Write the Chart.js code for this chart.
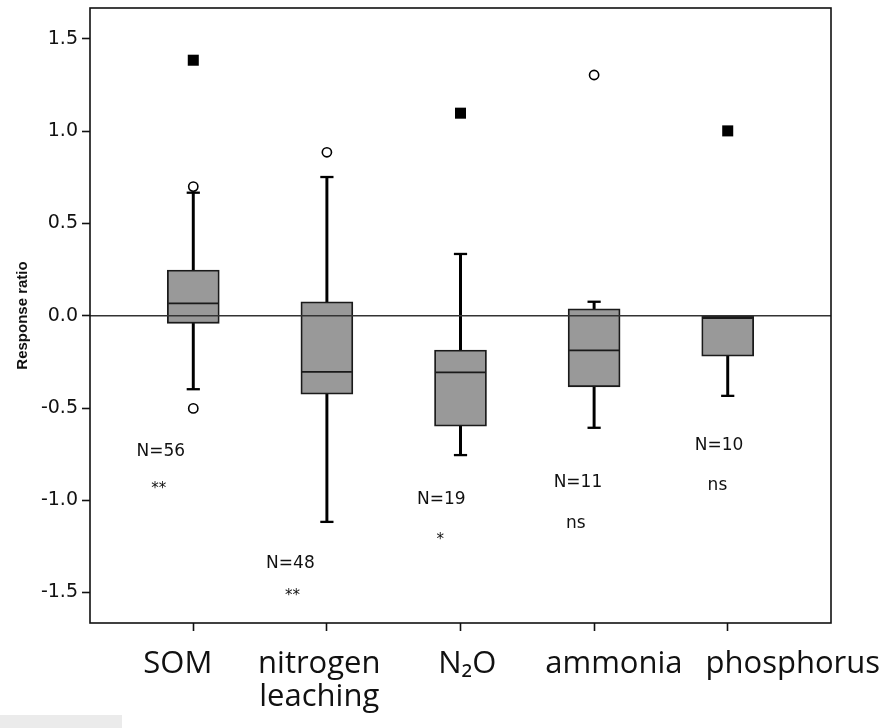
<!DOCTYPE html>
<html>
<head>
<meta charset="utf-8">
<script src="https://cdn.jsdelivr.net/npm/chart.js@4/dist/chart.umd.min.js"></script>
<style>
  html, body { margin: 0; padding: 0; background: #ffffff; }
  #wrap { position: relative; width: 887px; height: 728px; }
  #corner { position: absolute; left: 0; top: 715px; width: 122px; height: 13px; background: #ebebeb; }
</style>
</head>
<body>
<div id="wrap">
  <canvas id="c" width="887" height="728"></canvas>
  <div id="corner"></div>
</div>
<script>
// ---- data ----
const categories  = ['SOM', 'nitrogen\nleaching', 'N\u2082O', 'ammonia', 'phosphorus'];
const categoryLabelX = [-0.116, 0.943, 2.051, 3.148, 4.487]; // where each category name sits (x units)
const whiskerLow  = [-0.398, -1.117, -0.755, -0.607, -0.434];
const q1          = [-0.041, -0.425, -0.598, -0.385, -0.219];
const medians     = [ 0.067, -0.304, -0.307, -0.188, -0.012];
const q3          = [ 0.248,  0.076, -0.186,  0.038,  0.000];
const whiskerHigh = [ 0.667,  0.752,  0.335,  0.076,  0.000];
const outliers    = [[0.700, -0.502], [0.886], [], [1.305], []];
const extremes    = [[1.385], [], [1.098], [], [1.002]];
const nLabels     = ['N=56', 'N=48', 'N=19', 'N=11', 'N=10'];
const sigLabels   = ['**', '**', '*', 'ns', 'ns'];
const nLabelX     = [-0.243, 0.727, 1.856, 2.879, 3.935];
const nLabelY     = [-0.738, -1.341, -0.994, -0.906, -0.705];
const sigLabelX   = [-0.258, 0.742, 1.848, 2.863, 3.923];
const sigLabelY   = [-0.918, -1.497, -1.195, -1.124, -0.918];
const yTicks      = [-1.5, -1.0, -0.5, 0.0, 0.5, 1.0, 1.5];
const yRange      = [-1.665, 1.668];
const xRange      = [-0.773, 4.773];

// ---- build datasets ----
const idx = categories.map((_, i) => i);
const boxData = idx.map(i => ({ x: i, y: [q1[i], q3[i]] }));
const whiskerData = [];
idx.forEach(i => {
  if (whiskerHigh[i] > q3[i]) whiskerData.push({ x: i, y: [q3[i], whiskerHigh[i]] });
  if (whiskerLow[i] < q1[i]) whiskerData.push({ x: i, y: [whiskerLow[i], q1[i]] });
});
const capData = [];
idx.forEach(i => {
  if (whiskerHigh[i] > q3[i]) capData.push({ x: i, y: whiskerHigh[i] });
  if (whiskerLow[i] < q1[i]) capData.push({ x: i, y: whiskerLow[i] });
});
const medianData = idx.map(i => ({ x: i, y: medians[i] }));
const outlierData = [];
outliers.forEach((arr, i) => arr.forEach(v => outlierData.push({ x: i, y: v })));
const extremeData = [];
extremes.forEach((arr, i) => arr.forEach(v => extremeData.push({ x: i, y: v })));

const framePlugin = {
  id: 'frameAndNotes',
  afterDatasetsDraw(chart) {
    const { ctx, chartArea: a, scales: { x, y } } = chart;
    ctx.save();
    ctx.strokeStyle = '#111';
    ctx.lineWidth = 1.6;
    ctx.strokeRect(a.left, a.top, a.right - a.left, a.bottom - a.top);
    ctx.fillStyle = '#111';
    ctx.textAlign = 'center';
    ctx.textBaseline = 'middle';
    ctx.font = '17px "DejaVu Sans"';
    nLabels.forEach((t, i) => {
      ctx.fillText(t, x.getPixelForValue(nLabelX[i]), y.getPixelForValue(nLabelY[i]));
    });
    sigLabels.forEach((t, i) => {
      const star = t.indexOf('*') >= 0;
      ctx.font = star ? '15px "DejaVu Sans"' : '17px "DejaVu Sans"';
      const dy = star ? 4 : 0;
      ctx.fillText(t, x.getPixelForValue(sigLabelX[i]), y.getPixelForValue(sigLabelY[i]) + dy);
    });
    ctx.restore();
  }
};

const noPad = s => { s.paddingTop = 0; s.paddingBottom = 0; s.paddingLeft = 0; s.paddingRight = 0; };

new Chart(document.getElementById('c'), {
  type: 'bar',
  data: {
    datasets: [
      { type: 'line', data: [{ x: xRange[0], y: 0 }, { x: xRange[1], y: 0 }],
        borderColor: '#333', borderWidth: 1.6, pointRadius: 0, order: 1 },
      { type: 'scatter', data: extremeData, pointStyle: 'rect', pointRadius: 7.8,
        backgroundColor: '#000', borderColor: '#000', borderWidth: 0, order: 2 },
      { type: 'scatter', data: outlierData, pointStyle: 'circle', pointRadius: 4.6,
        backgroundColor: '#fff', borderColor: '#000', borderWidth: 1.6, order: 2 },
      { type: 'scatter', data: medianData, pointStyle: 'line', pointRadius: 25,
        borderColor: '#1a1a1a', borderWidth: 1.8, order: 3 },
      { type: 'scatter', data: capData, pointStyle: 'line', pointRadius: 6.6,
        borderColor: '#000', borderWidth: 2.3, order: 4 },
      { type: 'bar', data: boxData, backgroundColor: '#999999', borderColor: '#1a1a1a',
        borderWidth: 1.8, borderSkipped: false, barThickness: 52, grouped: false, order: 5 },
      { type: 'bar', data: whiskerData, backgroundColor: '#000', borderWidth: 0,
        barThickness: 2.3, grouped: false, order: 6 }
    ]
  },
  options: {
    responsive: false,
    animation: false,
    events: [],
    layout: { autoPadding: false, padding: { left: 0, top: 8, right: 56, bottom: 0 } },
    plugins: { legend: { display: false }, tooltip: { enabled: false } },
    scales: {
      x: {
        type: 'linear', offset: false, min: xRange[0], max: xRange[1], weight: 0,
        afterBuildTicks: s => { s.ticks = idx.map(i => ({ value: i })); },
        afterFit: s => { s.height = 8; noPad(s); },
        border: { display: false },
        grid: { offset: false, drawOnChartArea: false, drawTicks: true, tickLength: 8, tickColor: '#111', tickWidth: 1.6 },
        ticks: { display: false }
      },
      xLabels: {
        type: 'linear', position: 'bottom', offset: false, min: xRange[0], max: xRange[1], weight: 1,
        afterBuildTicks: s => { s.ticks = idx.map(i => ({ value: categoryLabelX[i] })); },
        afterFit: s => { s.height = 97; noPad(s); },
        border: { display: false },
        grid: { display: false, drawTicks: false, offset: false },
        ticks: {
          autoSkip: false, maxRotation: 0, padding: 17, color: '#111',
          font: { family: '"Open Sans"', size: 31, lineHeight: 1.05 },
          callback: (v, i) => categories[i].split('\n')
        }
      },
      y: {
        type: 'linear', min: yRange[0], max: yRange[1],
        afterBuildTicks: s => { s.ticks = yTicks.map(v => ({ value: v })); },
        afterFit: s => { s.width = 90; noPad(s); },
        border: { display: false },
        grid: { drawOnChartArea: false, drawTicks: true, tickLength: 8, tickColor: '#111', tickWidth: 1.6 },
        ticks: {
          padding: 4, color: '#111',
          font: { family: '"DejaVu Sans"', size: 19 },
          callback: v => Number(v).toFixed(1)
        },
        title: {
          display: true, text: 'Response ratio', color: '#111',
          font: { family: '"Liberation Sans"', size: 15, weight: 'bold' },
          padding: { top: 14, bottom: 0 }
        }
      }
    }
  },
  plugins: [framePlugin]
});
</script>
</body>
</html>
